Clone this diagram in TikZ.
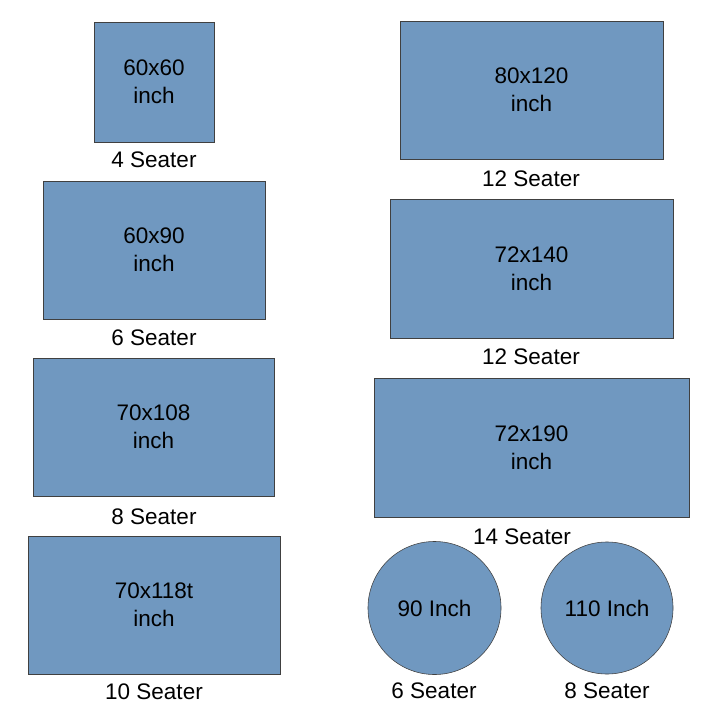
\documentclass[tikz,border=0pt]{standalone}
\usepackage{fontspec}
\setmainfont{Liberation Sans}
\usetikzlibrary{positioning}
\definecolor{tablefill}{RGB}{112,152,192}
\tikzset{
  tbl/.style={draw=black!75, fill=tablefill, align=center, inner sep=0pt,
    font=\fontsize{16}{20}\selectfont},
  rnd/.style={tbl, circle},
  seat/.style={inner sep=0pt, font=\fontsize{16}{19}\selectfont}
}
\begin{document}
\begin{tikzpicture}[x=0.025cm,y=-0.025cm]
\useasboundingbox (0,0) rectangle (720,720);
% left column
\node[tbl, minimum width=3cm, minimum height=3cm] (t4) at (154,82) {60x60\\inch};
\node[tbl, minimum width=5.55cm, minimum height=3.45cm] (t6) at (154,250) {60x90\\inch};
\node[tbl, minimum width=6.025cm, minimum height=3.45cm] (t8) at (153.5,427) {70x108\\inch};
\node[tbl, minimum width=6.3cm, minimum height=3.45cm] (t10) at (154,605) {70x118t\\inch};
% right column
\node[tbl, minimum width=6.575cm, minimum height=3.45cm] (t12a) at (531.5,90) {80x120\\inch};
\node[tbl, minimum width=7.075cm, minimum height=3.475cm] (t12b) at (531.5,268.5) {72x140\\inch};
\node[tbl, minimum width=7.875cm, minimum height=3.475cm] (t14) at (531.5,447.5) {72x190\\inch};
\node[rnd, minimum size=3.325cm] (r90) at (434.5,608) {90 Inch};
\node[rnd, minimum size=3.3cm] (r110) at (607,608) {110 Inch};
% labels
\node[seat] (s4) at (154,160) {4 Seater};
\node[seat] (s6) at (154,338) {6 Seater};
\node[seat] (s8) at (154,517) {8 Seater};
\node[seat] (s10) at (154,692) {10 Seater};
\node[seat] (s12a) at (531,179) {12 Seater};
\node[seat] (s12b) at (531,357) {12 Seater};
\node[seat] (s14) at (522,537) {14 Seater};
\node[seat] (s90) at (434,691) {6 Seater};
\node[seat] (s110) at (607,691) {8 Seater};
\end{tikzpicture}
\end{document}
